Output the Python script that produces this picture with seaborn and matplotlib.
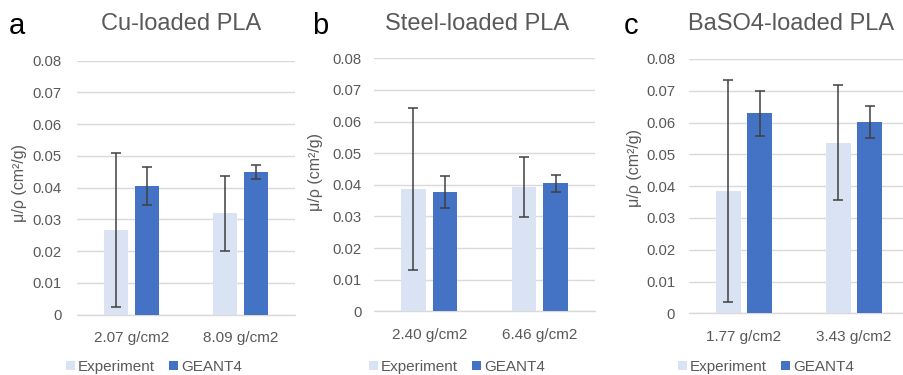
import matplotlib
matplotlib.use("Agg")
import matplotlib.pyplot as plt
from matplotlib.patches import Patch
import numpy as np
import pandas as pd
import seaborn as sns

# Mass attenuation coefficient (cm^2/g) for three loaded PLA filaments
panel_letters = ["a", "b", "c"]
panel_titles = ["Cu-loaded PLA", "Steel-loaded PLA", "BaSO4-loaded PLA"]
densities = [
    ["2.07 g/cm2", "8.09 g/cm2"],
    ["2.40 g/cm2", "6.46 g/cm2"],
    ["1.77 g/cm2", "3.43 g/cm2"],
]
series_names = ["Experiment", "GEANT4"]

exp_values = [[0.0266, 0.0319], [0.0386, 0.0392], [0.0385, 0.0537]]
exp_errors = [[0.0243, 0.0118], [0.0257, 0.0095], [0.0350, 0.0182]]
sim_values = [[0.0405, 0.0449], [0.0378, 0.0405], [0.0629, 0.0603]]
sim_errors = [[0.0060, 0.0023], [0.0050, 0.0027], [0.0070, 0.0050]]

y_ticks = [0, 0.01, 0.02, 0.03, 0.04, 0.05, 0.06, 0.07, 0.08]
y_tick_labels = ["0", "0.01", "0.02", "0.03", "0.04", "0.05", "0.06", "0.07", "0.08"]

sns.set_theme(style="white")
plt.rcParams["font.family"] = ["Liberation Sans", "DejaVu Sans"]

LIGHT = "#DAE3F3"
BLUE = "#4472C4"
TEXT = "#595959"
GRID = "#D9D9D9"
ERR = "#404040"

fig = plt.figure(figsize=(9.04, 3.75), dpi=100)

# axes rectangles in figure fraction: left, bottom, width, height
rects = [
    [0.0852, 0.1608, 0.2412, 0.6773],
    [0.4137, 0.1699, 0.2445, 0.6747],
    [0.7622, 0.1645, 0.2434, 0.6782],
]
title_x = [181.5 / 904, 477 / 904, 791 / 904]
letter_x = [9 / 904, 312 / 904, 624 / 904]
legend_x = [154 / 904, 457 / 904, 766 / 904]
ylabel_pos = [(-0.229, 0.52), (-0.231, 0.549), (-0.214, 0.571)]
tick_pads = [11, 9, 10]

for i in range(3):
    ax = fig.add_axes(rects[i])
    df = pd.DataFrame({
        "density": densities[i] * 2,
        "value": exp_values[i] + sim_values[i],
        "source": [series_names[0]] * 2 + [series_names[1]] * 2,
    })
    sns.barplot(
        data=df, x="density", y="value", hue="source",
        order=densities[i], hue_order=series_names,
        palette=[LIGHT, BLUE], saturation=1, width=0.57, gap=0.21,
        errorbar=None, legend=False, linewidth=0, ax=ax,
    )
    # error bars centred on each drawn bar
    for container, vals, errs in zip(ax.containers,
                                     [exp_values[i], sim_values[i]],
                                     [exp_errors[i], sim_errors[i]]):
        xs = [p.get_x() + p.get_width() / 2 for p in container]
        ax.errorbar(xs, vals, yerr=errs, fmt="none", ecolor=ERR,
                    elinewidth=1.1, capsize=3.3, capthick=1.1, zorder=5)

    ax.set_xlim(-0.5, len(densities[i]) - 0.5)
    ax.set_ylim(0, 0.08)
    ax.set_yticks(y_ticks)
    ax.set_yticklabels(y_tick_labels)
    ax.set_axisbelow(True)
    ax.yaxis.grid(True, color=GRID, linewidth=1.0)
    ax.xaxis.grid(False)
    ax.axhline(0, color=GRID, linewidth=1.0, clip_on=False, zorder=0.5)
    for s in ax.spines.values():
        s.set_visible(False)
    ax.tick_params(axis="y", length=0, pad=tick_pads[i], labelsize=10.7, labelcolor=TEXT)
    ax.tick_params(axis="x", length=0, pad=12, labelsize=11, labelcolor=TEXT)
    ax.set_xlabel("")
    ax.set_ylabel("μ/ρ (cm²/g)", fontsize=11.5, color=TEXT)
    ax.yaxis.set_label_coords(*ylabel_pos[i])

    fig.text(title_x[i], 0.936, panel_titles[i], ha="center", va="center",
             fontsize=17, color=TEXT)
    fig.text(letter_x[i], 0.93, panel_letters[i], ha="left", va="center",
             fontsize=21, color="black")

    handles = [Patch(facecolor=LIGHT, edgecolor="none", label=series_names[0]),
               Patch(facecolor=BLUE, edgecolor="none", label=series_names[1])]
    fig.legend(handles=handles, loc="center", bbox_to_anchor=(legend_x[i], 0.022),
               ncol=2, frameon=False, fontsize=11, labelcolor=TEXT,
               handlelength=0.6, handleheight=0.6, handletextpad=0.2,
               columnspacing=0.9, borderaxespad=0, borderpad=0)

fig.savefig("out.png", dpi=100)
